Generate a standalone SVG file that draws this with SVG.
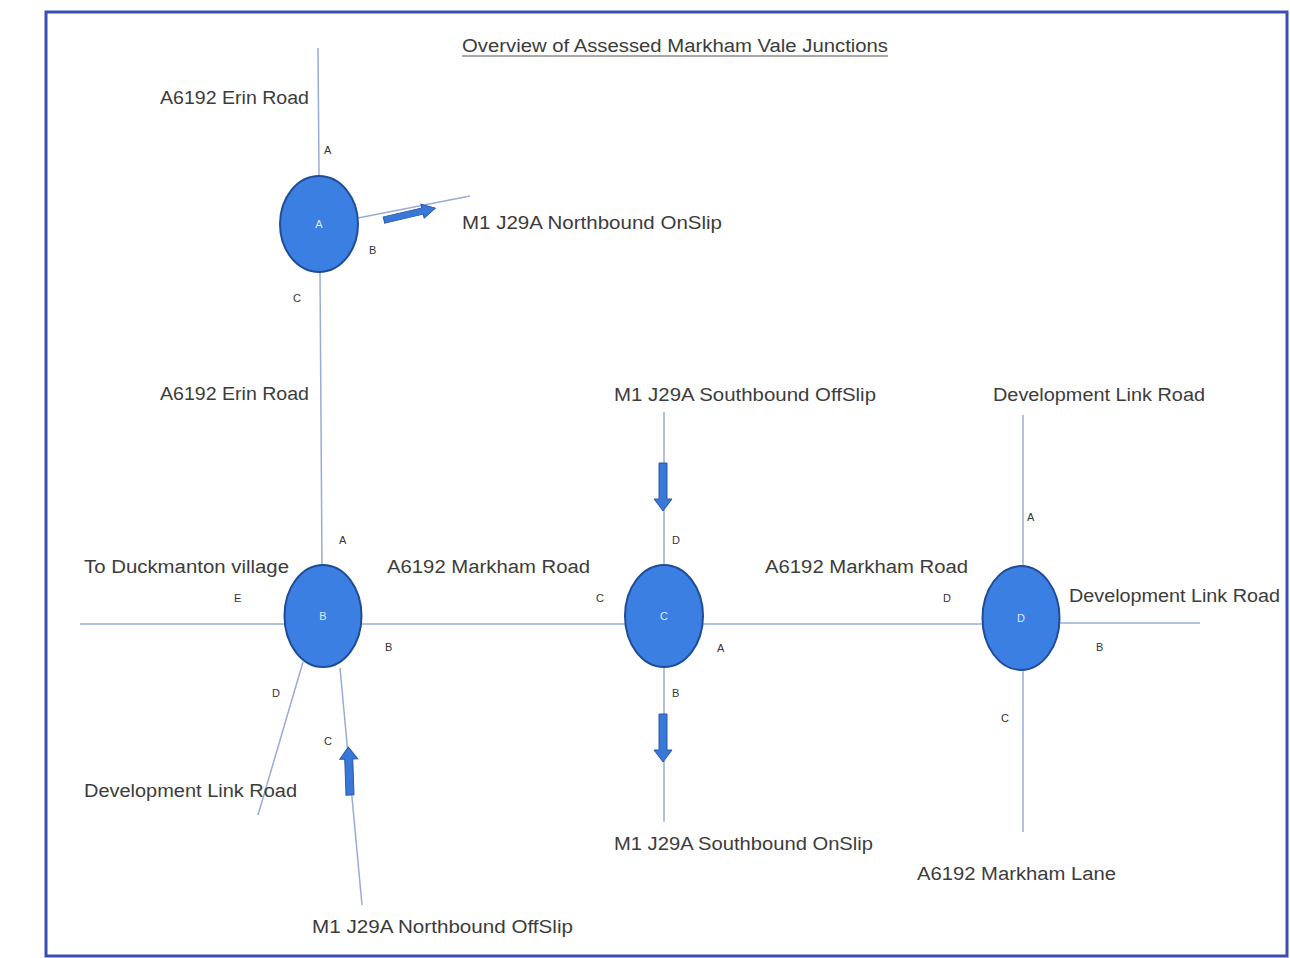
<svg xmlns="http://www.w3.org/2000/svg" width="1290" height="958" viewBox="0 0 1290 958">
<defs>
<style>
.road{stroke:#98acd8;stroke-width:1.5;fill:none}
.rb{fill:#3c7fe2;stroke:#1f4c99;stroke-width:2}
.lbl{font-family:"Liberation Sans",Arial,sans-serif;font-size:18px;fill:#3c3c3c}
.arm{font-family:"Liberation Sans",Arial,sans-serif;font-size:11px;fill:#333}
.ctr{font-family:"Liberation Sans",Arial,sans-serif;font-size:11px;fill:#dfe9fb;text-anchor:middle}
.arr{fill:#3a78d8;stroke:#2a56a6;stroke-width:1}
</style>
<path id="blk" d="M0,-4 L36,-4 L36,-9 L48,0 L36,9 L36,4 L0,4 Z"/>
</defs>
<rect width="1290" height="958" fill="#fff"/>
<rect x="46" y="12" width="1241" height="944" fill="none" stroke="#3b4fb2" stroke-width="3"/>
<g id="title">
<text class="lbl" x="462" y="52" textLength="426" lengthAdjust="spacingAndGlyphs">Overview of Assessed Markham Vale Junctions</text>
<line x1="462" y1="56" x2="888" y2="56" stroke="#555" stroke-width="1.2"/>
</g>
<g id="connectors">
<line class="road" x1="318" y1="48" x2="319" y2="176"/>
<line class="road" x1="320" y1="272" x2="322" y2="566"/>
<line class="road" x1="358" y1="218" x2="470" y2="196"/>
<line class="road" x1="80" y1="624" x2="285" y2="624"/>
<line class="road" x1="361" y1="624" x2="625" y2="624"/>
<line class="road" x1="703" y1="624" x2="983" y2="624"/>
<line class="road" x1="1060" y1="623" x2="1200" y2="623"/>
<line class="road" x1="303" y1="662" x2="258" y2="815"/>
<line class="road" x1="340" y1="668" x2="362" y2="905"/>
<line class="road" x1="664" y1="412" x2="664" y2="565"/>
<line class="road" x1="664" y1="667" x2="664" y2="822"/>
<line class="road" x1="1023" y1="415" x2="1023" y2="566"/>
<line class="road" x1="1023" y1="670" x2="1023" y2="832"/>
<use href="#blk" class="arr" transform="translate(384,220) rotate(-13) scale(1.1,0.8)"/>
<use href="#blk" class="arr" transform="translate(350,795) rotate(-92)"/>
<use href="#blk" class="arr" transform="translate(663,463) rotate(90)"/>
<use href="#blk" class="arr" transform="translate(663,714) rotate(90)"/>
</g>
<g id="junctionA">
<ellipse class="rb" cx="319" cy="224" rx="39" ry="48"/>
<text class="ctr" x="319" y="228">A</text>
<text class="arm" x="324" y="154">A</text>
<text class="arm" x="369" y="254">B</text>
<text class="arm" x="293" y="302">C</text>
<text class="lbl" x="160" y="104" textLength="149" lengthAdjust="spacingAndGlyphs">A6192 Erin Road</text>
<text class="lbl" x="462" y="229" textLength="260" lengthAdjust="spacingAndGlyphs">M1 J29A Northbound OnSlip</text>
</g>
<g id="junctionB">
<ellipse class="rb" cx="323" cy="616" rx="38.5" ry="51"/>
<text class="ctr" x="323" y="620">B</text>
<text class="arm" x="339" y="544">A</text>
<text class="arm" x="234" y="602">E</text>
<text class="arm" x="385" y="651">B</text>
<text class="arm" x="272" y="697">D</text>
<text class="arm" x="324" y="745">C</text>
<text class="lbl" x="160" y="400" textLength="149" lengthAdjust="spacingAndGlyphs">A6192 Erin Road</text>
<text class="lbl" x="84" y="573" textLength="205" lengthAdjust="spacingAndGlyphs">To Duckmanton village</text>
<text class="lbl" x="387" y="573" textLength="203" lengthAdjust="spacingAndGlyphs">A6192 Markham Road</text>
<text class="lbl" x="84" y="797" textLength="213" lengthAdjust="spacingAndGlyphs">Development Link Road</text>
<text class="lbl" x="312" y="933" textLength="261" lengthAdjust="spacingAndGlyphs">M1 J29A Northbound OffSlip</text>
</g>
<g id="junctionC">
<ellipse class="rb" cx="664" cy="616" rx="39" ry="51"/>
<text class="ctr" x="664" y="620">C</text>
<text class="arm" x="672" y="544">D</text>
<text class="arm" x="596" y="602">C</text>
<text class="arm" x="717" y="652">A</text>
<text class="arm" x="672" y="697">B</text>
<text class="lbl" x="614" y="401" textLength="262" lengthAdjust="spacingAndGlyphs">M1 J29A Southbound OffSlip</text>
<text class="lbl" x="614" y="850" textLength="259" lengthAdjust="spacingAndGlyphs">M1 J29A Southbound OnSlip</text>
<text class="lbl" x="765" y="573" textLength="203" lengthAdjust="spacingAndGlyphs">A6192 Markham Road</text>
</g>
<g id="junctionD">
<ellipse class="rb" cx="1021" cy="618" rx="38.5" ry="52"/>
<text class="ctr" x="1021" y="622">D</text>
<text class="arm" x="1027" y="521">A</text>
<text class="arm" x="943" y="602">D</text>
<text class="arm" x="1096" y="651">B</text>
<text class="arm" x="1001" y="722">C</text>
<text class="lbl" x="993" y="401" textLength="212" lengthAdjust="spacingAndGlyphs">Development Link Road</text>
<text class="lbl" x="1069" y="602" textLength="211" lengthAdjust="spacingAndGlyphs">Development Link Road</text>
<text class="lbl" x="917" y="880" textLength="199" lengthAdjust="spacingAndGlyphs">A6192 Markham Lane</text>
</g>
</svg>
